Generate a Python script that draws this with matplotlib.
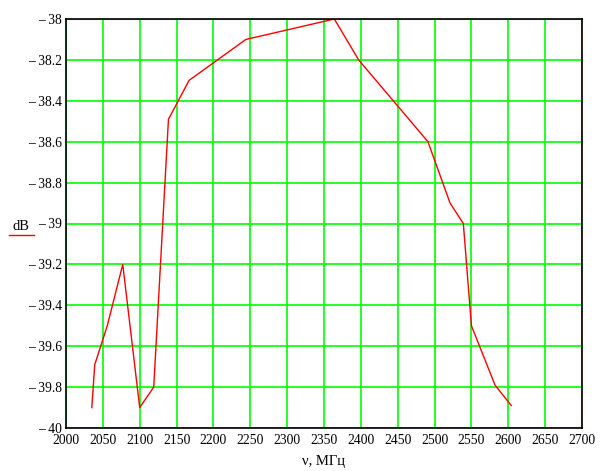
import numpy as np
import matplotlib
matplotlib.use('Agg')
import matplotlib.pyplot as plt
from matplotlib.lines import Line2D

# frequency (MHz) and level (dB)
freq = [2035, 2039, 2056, 2077, 2098, 2100, 2119, 2139, 2167, 2244, 2364, 2397, 2491, 2521, 2539, 2550, 2582, 2604]
level = [-39.9, -39.69, -39.5, -39.2, -39.84, -39.9, -39.8, -38.49, -38.3, -38.1, -38.0, -38.2, -38.6, -38.9, -39.0, -39.5, -39.79, -39.89]

xticks = np.arange(2000, 2701, 50)
yticks = np.arange(-40, -37.99, 0.2)

plt.rcParams['font.family'] = ['Liberation Serif', 'DejaVu Serif']

fig = plt.figure(figsize=(6.08, 4.71), dpi=100)
ax = fig.add_axes([66/608, 1 - 428/471, (582-66)/608, (428-19)/471])

ax.plot(freq, level, color='#ff0000', lw=1.0, zorder=3)

ax.set_xlim(2000, 2700)
ax.set_ylim(-40, -38)
ax.set_xticks(xticks)
ax.set_yticks(yticks)
ax.set_xticklabels([str(v) for v in xticks])
ax.set_yticklabels(['\u2013 %g' % abs(round(v, 1)) for v in yticks])
ax.grid(True, color='#00ff00', lw=1.2, zorder=1)
ax.tick_params(length=0, labelsize=9.8)
ax.tick_params(axis='x', pad=4)
ax.tick_params(axis='y', pad=3)
for s in ax.spines.values():
    s.set_color('black')
    s.set_linewidth(1.2)
    s.set_zorder(4)

ax.set_xlabel('\u03bd, МГц', fontsize=10.5, labelpad=6)

# y label with a short red legend line underneath
fig.text(21/608, 1 - 226/471, 'dB', ha='center', va='center', fontsize=10.5)
fig.add_artist(Line2D([9/608, 34/608], [1 - 235/471, 1 - 235/471], color='#ff0000', lw=1.0, transform=fig.transFigure))

fig.savefig('out.png', dpi=100)
